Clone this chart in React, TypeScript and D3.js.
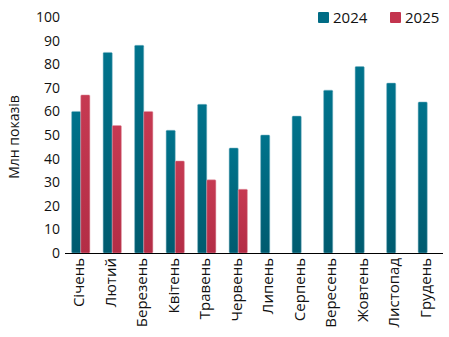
import React from "react";
import * as d3 from "d3";

const months = ["Січень", "Лютий", "Березень", "Квітень", "Травень", "Червень", "Липень", "Серпень", "Вересень", "Жовтень", "Листопад", "Грудень"];
const values2024 = [60, 85, 88, 52, 63, 44.5, 50, 58, 69, 79, 72, 64];
const values2025: (number | null)[] = [67, 54, 60, 39, 31, 27, null, null, null, null, null, null];
const seriesNames = ["2024", "2025"];
const yTicks = [0, 10, 20, 30, 40, 50, 60, 70, 80, 90, 100];

const W = 449, H = 337;
const left = 65, right = 443, top = 17, bottom = 253;
const font = "'Open Sans', 'Noto Sans', sans-serif";

export default function App() {
  const x = d3.scaleBand<string>().domain(months).range([left, right]).paddingInner(0.42).paddingOuter(0.21);
  const sub = d3.scaleBand<string>().domain(seriesNames).range([0, x.bandwidth()]).padding(0);
  const y = d3.scaleLinear().domain([0, 100]).range([bottom, top]);
  const colors: Record<string, string> = { "2024": "url(#gBlue)", "2025": "url(#gRed)" };
  const solid: Record<string, string> = { "2024": "#006c85", "2025": "#c3344e" };

  const bars: { m: string; s: string; v: number }[] = [];
  months.forEach((m, i) => {
    bars.push({ m, s: "2024", v: values2024[i] });
    const v2 = values2025[i];
    if (v2 != null) bars.push({ m, s: "2025", v: v2 });
  });

  return (
    <svg width={W} height={H} style={{ position: "absolute", left: 0, top: 0, background: "#fff" }}>
      <defs>
        <linearGradient id="gBlue" x1="0" y1="0" x2="0" y2="1">
          <stop offset="0" stopColor="#00738c" />
          <stop offset="1" stopColor="#005b6f" />
        </linearGradient>
        <linearGradient id="gRed" x1="0" y1="0" x2="0" y2="1">
          <stop offset="0" stopColor="#c63a52" />
          <stop offset="1" stopColor="#b32d46" />
        </linearGradient>
      </defs>
      {yTicks.map((t) => (
        <text key={t} x={60} y={y(t)} dy="0.36em" textAnchor="end" fontFamily={font} fontSize={14} fill="#111">
          {t}
        </text>
      ))}
      <text transform={`translate(19,137) rotate(-90)`} textAnchor="middle" fontFamily={font} fontSize={14} fill="#111">
        Млн показів
      </text>
      {bars.map((b) => {
        const bx = (x(b.m) as number) + (sub(b.s) as number);
        const bw = sub.bandwidth();
        return (
          <rect key={b.m + b.s} x={bx} y={y(b.v)} width={bw} height={y(0) - y(b.v)} rx={1} fill={colors[b.s]} stroke={b.s === "2024" ? "#7fb7c6" : "#e39aa8"} strokeWidth={0.5} />
        );
      })}
      <line x1={left} x2={right} y1={bottom + 0.5} y2={bottom + 0.5} stroke="#000" strokeWidth={1.2} />
      {months.map((m) => {
        const cx = (x(m) as number) + x.bandwidth() / 2 - 2;
        return (
          <text key={m} transform={`translate(${cx},${bottom + 5}) rotate(-90)`} dy="0.36em" textAnchor="end" fontFamily={font} fontSize={15} fill="#111">
            {m}
          </text>
        );
      })}
      {seriesNames.map((s, i) => {
        const lx = 318 + i * 72;
        return (
          <g key={s}>
            <rect x={lx} y={12} width={11} height={11} rx={1} fill={solid[s]} />
            <text x={lx + 15} y={18} dy="0.36em" fontFamily={font} fontSize={15} fill="#111">
              {s}
            </text>
          </g>
        );
      })}
    </svg>
  );
}
